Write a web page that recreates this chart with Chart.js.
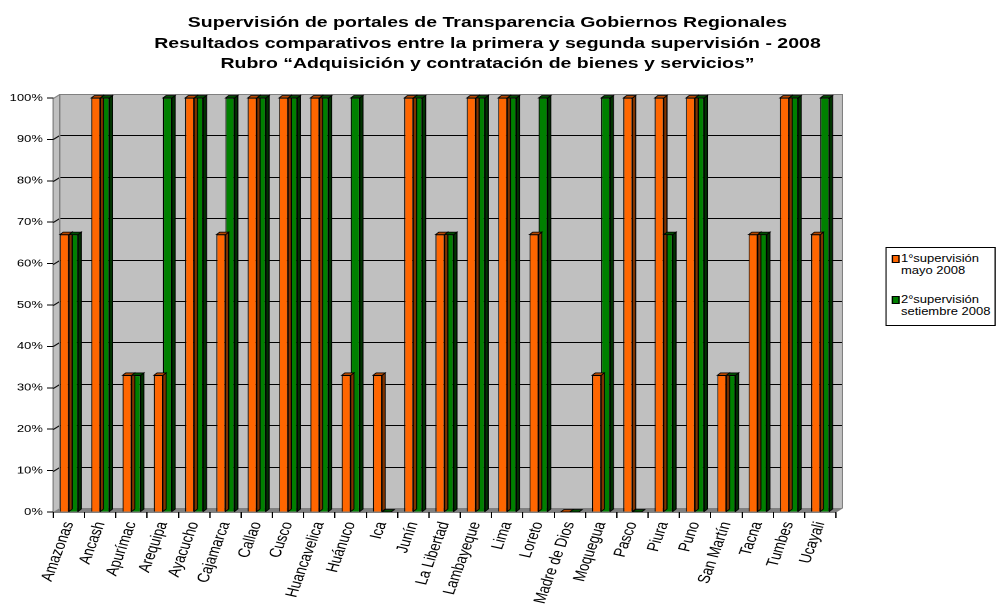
<!DOCTYPE html>
<html>
<head>
<meta charset="utf-8">
<script src="https://cdn.jsdelivr.net/npm/chart.js@4.4.0/dist/chart.umd.min.js"></script>
<style>
  body { margin: 0; background: #fff; overflow: hidden; }
  /* the original picture is stretched sideways, so lay out at 768px and widen by 1.3 */
  #wrap { position: relative; width: 768px; height: 608px; transform: scaleX(1.3); transform-origin: 0 0; }
  #chart { position: absolute; left: 0; top: 0; }
  #titulo {
    position: absolute; left: 0; top: 12px; width: 750px; text-align: center;
    font-family: "Liberation Sans", Arial, sans-serif; font-size: 15px; font-weight: bold;
    line-height: 20.5px; color: #000;
  }
  #legend {
    position: absolute; left: 681px; top: 247px; width: 83px; height: 77px;
    border: 1px solid #000; background: #fff;
    font-family: "Liberation Sans", Arial, sans-serif; font-size: 10px; color: #000;
  }
  .item { position: absolute; left: 11px; line-height: 11.5px; }
  .sw { position: absolute; left: -7px; top: 2px; width: 4px; height: 6px; border: 1px solid #000; }
</style>
</head>
<body>
<div id="wrap">
  <canvas id="chart" width="768" height="608"></canvas>
  <div id="titulo"></div>
  <div id="legend"></div>
</div>
<script>
// Datos
const regiones = ["Amazonas", "Ancash", "Apurímac", "Arequipa", "Ayacucho", "Cajamarca", "Callao", "Cusco",
  "Huancavelica", "Huánuco", "Ica", "Junín", "La Libertad", "Lambayeque", "Lima", "Loreto", "Madre de Dios",
  "Moquegua", "Pasco", "Piura", "Puno", "San Martín", "Tacna", "Tumbes", "Ucayali"];
const primeraSupervision = [67, 100, 33, 33, 100, 67, 100, 100, 100, 33, 33, 100, 67, 100, 100, 67, 0, 33, 100, 100, 100, 33, 67, 100, 67];
const segundaSupervision = [67, 100, 33, 100, 100, 100, 100, 100, 100, 100, 0, 100, 67, 100, 100, 100, 0, 100, 0, 67, 100, 33, 67, 100, 100];
const etiquetasSerie = [["1°supervisión", "mayo 2008"], ["2°supervisión", "setiembre 2008"]];
const coloresSerie = ["#FF6600", "#008000"];
const tituloLineas = [
  "Supervisión de portales de Transparencia Gobiernos Regionales",
  "Resultados comparativos entre la primera y segunda supervisión - 2008",
  "Rubro \u201cAdquisición y contratación de bienes y servicios\u201d"
];

document.getElementById('titulo').innerHTML = tituloLineas.join('<br>');
document.getElementById('legend').innerHTML = etiquetasSerie.map((lineas, i) =>
  `<div class="item" style="top:${5 + i * 41}px"><span class="sw" style="background:${coloresSerie[i]}"></span>${lineas.join('<br>')}</div>`
).join('');

const WX = 5, WY = 4;       // fondo 3D
const DX = 2.5, DY = 2.5;   // profundidad de barras

// pared trasera, pared lateral y piso
const fondoPlugin = {
  id: 'fondo',
  beforeDatasetsDraw(chart) {
    const { ctx, chartArea: a, scales } = chart;
    const L = a.left, R = a.right, T = a.top, B = a.bottom;
    ctx.save();
    ctx.fillStyle = '#C0C0C0';
    ctx.beginPath();
    ctx.moveTo(L, T); ctx.lineTo(L + WX, T - WY); ctx.lineTo(R + WX, T - WY);
    ctx.lineTo(R + WX, B - WY); ctx.lineTo(R, B); ctx.lineTo(L, B);
    ctx.closePath(); ctx.fill();
    ctx.fillStyle = '#808080';
    ctx.beginPath();
    ctx.moveTo(L, B); ctx.lineTo(L + WX, B - WY); ctx.lineTo(R + WX, B - WY); ctx.lineTo(R, B);
    ctx.closePath(); ctx.fill();
    ctx.lineWidth = 1;
    scales.y.ticks.forEach(t => {
      if (t.value === 0) return;
      const y = Math.round(scales.y.getPixelForValue(t.value)) + 0.5;
      ctx.strokeStyle = t.value === 100 ? '#808080' : '#000';
      ctx.beginPath();
      ctx.moveTo(L, y); ctx.lineTo(L + WX, y - WY); ctx.lineTo(R + WX, y - WY);
      ctx.stroke();
    });
    ctx.strokeStyle = '#808080';
    ctx.beginPath();
    ctx.moveTo(L + WX, T - WY); ctx.lineTo(L + WX, B - WY);
    ctx.moveTo(R + WX, T - WY); ctx.lineTo(R + WX, B - WY); ctx.lineTo(R, B);
    ctx.stroke();
    ctx.restore();
  }
};

// caras laterales y superiores de las barras
const profundidadPlugin = {
  id: 'profundidad',
  afterDatasetsDraw(chart) {
    const { ctx } = chart;
    const lados = ['#803300', '#003300'];
    const techos = ['#B34700', '#004d00'];
    chart.data.datasets.forEach((ds, i) => {
      chart.getDatasetMeta(i).data.forEach(bar => {
        const p = bar.getProps(['x', 'y', 'base', 'width'], true);
        const r = p.x + p.width / 2, l = p.x - p.width / 2;
        ctx.save();
        ctx.strokeStyle = '#000';
        ctx.lineWidth = 0.8;
        ctx.fillStyle = lados[i];
        ctx.beginPath();
        ctx.moveTo(r, p.y); ctx.lineTo(r + DX, p.y - DY);
        ctx.lineTo(r + DX, p.base - DY); ctx.lineTo(r, p.base);
        ctx.closePath(); ctx.fill(); ctx.stroke();
        ctx.fillStyle = techos[i];
        ctx.beginPath();
        ctx.moveTo(l, p.y); ctx.lineTo(l + DX, p.y - DY);
        ctx.lineTo(r + DX, p.y - DY); ctx.lineTo(r, p.y);
        ctx.closePath(); ctx.fill(); ctx.stroke();
        ctx.restore();
      });
    });
  }
};

const fuente = '"Liberation Sans", Arial, sans-serif';

new Chart(document.getElementById('chart'), {
  type: 'bar',
  data: {
    labels: regiones,
    datasets: [
      { label: etiquetasSerie[0].join(' '), data: primeraSupervision, backgroundColor: coloresSerie[0], borderColor: '#000', borderWidth: 0.8 },
      { label: etiquetasSerie[1].join(' '), data: segundaSupervision, backgroundColor: coloresSerie[1], borderColor: '#000', borderWidth: 0.8 }
    ]
  },
  options: {
    responsive: false,
    animation: false,
    devicePixelRatio: 2,
    layout: { padding: { left: 0, right: 125, top: 98, bottom: 0 } },
    datasets: { bar: { categoryPercentage: 0.58, barPercentage: 1.0 } },
    plugins: {
      legend: { display: false },
      tooltip: { enabled: false },
      title: { display: false }
    },
    scales: {
      x: {
        afterFit: s => { s.height = 96; },
        grid: { display: true, drawOnChartArea: false, color: '#000', tickLength: 6, offset: true },
        border: { color: '#000' },
        ticks: {
          color: '#000', minRotation: 74, maxRotation: 74, autoSkip: false, padding: 2,
          font: { family: fuente, size: 13 }
        }
      },
      y: {
        min: 0, max: 100,
        afterFit: s => { s.width = 41; },
        grid: { color: '#000', tickLength: 5, drawOnChartArea: false },
        border: { color: '#000' },
        ticks: {
          stepSize: 10, color: '#000', padding: 3,
          font: { family: fuente, size: 10 },
          callback: v => v + '%'
        }
      }
    }
  },
  plugins: [fondoPlugin, profundidadPlugin]
});
</script>
</body>
</html>
